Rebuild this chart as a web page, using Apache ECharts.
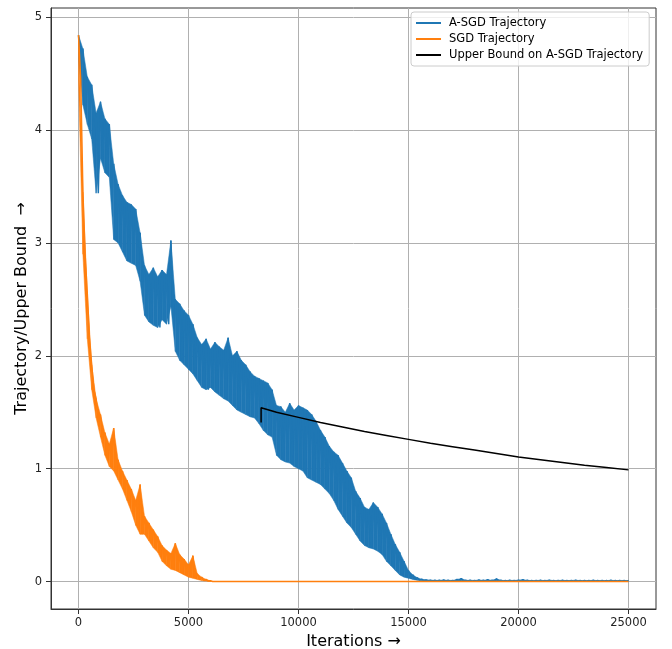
<!DOCTYPE html>
<html>
<head>
<meta charset="utf-8">
<script src="https://cdn.jsdelivr.net/npm/echarts@6/dist/echarts.min.js"></script>
<style>
  html, body { margin: 0; padding: 0; background: #fff; }
  #chart { width: 672px; height: 649px; }
</style>
</head>
<body>
<div id="chart"></div>
<script>
// iterations between two samples (top of the noise at i*step, bottom at i*step + step/2)
const step = 200;
const lastIter = 25000;

// A-SGD trajectory, upper and lower edge of the noisy band
const asgdHigh = [
  4.84, 4.72, 4.47, 4.40, 4.15, 4.25, 4.10, 4.05, 3.70, 3.52,
  3.42, 3.36, 3.34, 3.30, 3.09, 2.80, 2.72, 2.78, 2.70, 2.76,
  2.72, 3.02, 2.50, 2.46, 2.40, 2.36, 2.28, 2.16, 2.10, 2.15,
  2.06, 2.12, 2.08, 2.05, 2.16, 2.00, 2.04, 1.96, 1.92, 1.86,
  1.82, 1.80, 1.78, 1.76, 1.70, 1.56, 1.55, 1.50, 1.58, 1.52,
  1.56, 1.54, 1.52, 1.48, 1.42, 1.34, 1.28, 1.20, 1.15, 1.12,
  1.05, 0.98, 0.92, 0.80, 0.74, 0.66, 0.64, 0.70, 0.66, 0.60,
  0.52, 0.42, 0.33, 0.26, 0.18, 0.10, 0.06, 0.035, 0.022, 0.016,
  0.014, 0.012, 0.012, 0.015, 0.012, 0.011, 0.020, 0.028, 0.012, 0.013,
  0.011, 0.015, 0.012, 0.018, 0.012, 0.025, 0.012, 0.010, 0.012, 0.011,
  0.014, 0.018, 0.012, 0.010, 0.011, 0.012, 0.010, 0.014, 0.010, 0.011,
  0.012, 0.010, 0.011, 0.013, 0.010, 0.011, 0.010, 0.012, 0.010, 0.011,
  0.010, 0.012, 0.010, 0.011, 0.010, 0.010
];
const asgdLow = [
  4.62, 4.22, 4.05, 3.92, 3.44, 3.75, 3.62, 3.58, 3.03, 3.00,
  2.92, 2.84, 2.82, 2.80, 2.66, 2.36, 2.30, 2.27, 2.25, 2.32,
  2.28, 2.44, 2.04, 1.96, 1.92, 1.88, 1.84, 1.78, 1.72, 1.70,
  1.72, 1.68, 1.65, 1.62, 1.60, 1.56, 1.52, 1.50, 1.48, 1.46,
  1.45, 1.40, 1.34, 1.30, 1.28, 1.12, 1.08, 1.06, 1.05, 1.02,
  1.00, 0.98, 0.92, 0.90, 0.88, 0.86, 0.82, 0.78, 0.72, 0.64,
  0.58, 0.52, 0.48, 0.42, 0.36, 0.32, 0.30, 0.29, 0.27, 0.24,
  0.18, 0.14, 0.10, 0.06, 0.04, 0.03, 0.02, 0.012, 0.008, 0.006,
  0.005, 0.004, 0.004, 0.005, 0.004, 0.004, 0.005, 0.006, 0.004, 0.004,
  0.004, 0.004, 0.004, 0.005, 0.004, 0.005, 0.004, 0.004, 0.004, 0.004,
  0.004, 0.005, 0.004, 0.004, 0.004, 0.004, 0.004, 0.004, 0.004, 0.004,
  0.004, 0.004, 0.004, 0.004, 0.004, 0.004, 0.004, 0.004, 0.004, 0.004,
  0.004, 0.004, 0.004, 0.004, 0.004, 0.004
];

// SGD trajectory (noisy part up to 6000 iterations, flat afterwards)
const sgdHigh = [
  4.84, 3.45, 2.55, 1.92, 1.62, 1.48, 1.32, 1.22, 1.36, 1.08,
  0.98, 0.90, 0.82, 0.72, 0.86, 0.58, 0.52, 0.46, 0.40, 0.32,
  0.28, 0.25, 0.34, 0.24, 0.20, 0.15, 0.23, 0.07, 0.04, 0.02,
  0.008
];
const sgdLow = [
  4.45, 2.90, 2.15, 1.70, 1.45, 1.28, 1.12, 1.02, 0.98, 0.90,
  0.82, 0.72, 0.62, 0.50, 0.42, 0.42, 0.36, 0.30, 0.26, 0.18,
  0.14, 0.11, 0.10, 0.08, 0.06, 0.04, 0.03, 0.02, 0.01, 0.005,
  0.002
];
const sgdFlat = 0.001;

// upper bound on the A-SGD trajectory
const boundIters = [8300, 8300, 9000, 10000, 11000, 12000, 13000, 14000, 15000, 16000,
  17000, 18000, 19000, 20000, 21000, 22000, 23000, 24000, 25000];
const boundValues = [1.41, 1.54, 1.50, 1.455, 1.41, 1.37, 1.33, 1.295, 1.26, 1.225,
  1.195, 1.165, 1.135, 1.105, 1.08, 1.055, 1.03, 1.01, 0.99];

const xTicks = [0, 5000, 10000, 15000, 20000, 25000];
const yTicks = [0, 1, 2, 3, 4, 5];

// zigzag through the top and bottom of the noise
function zigzag(high, low) {
  const out = [];
  high.forEach((v, i) => {
    out.push([i * step, v]);
    if (i * step + step / 2 <= lastIter) out.push([i * step + step / 2, low[i]]);
  });
  return out;
}

// one quad per sample interval: [x0, low0, high0, x1, low1, high1]
function bandRows(high, low) {
  const out = [];
  for (let i = 0; i + 1 < high.length; i++) {
    out.push([i * step, low[i], high[i], (i + 1) * step, low[i + 1], high[i + 1]]);
  }
  return out;
}

const asgdData = zigzag(asgdHigh, asgdLow);
const sgdData = zigzag(sgdHigh, sgdLow);
sgdData.push([lastIter, sgdFlat]);
const boundData = boundIters.map((x, i) => [x, boundValues[i]]);

const font = 'DejaVu Sans';
const axisColor = '#333';
const gridColor = '#b0b0b0';
const blue = '#1f77b4';
const orange = '#ff7f0e';

function bandSeries(high, low, color, z) {
  return {
    type: 'custom',
    data: bandRows(high, low),
    encode: { x: [0, 3], y: [1, 2, 4, 5] },
    clip: true,
    silent: true,
    z: z,
    renderItem: (params, api) => {
      const p0 = api.coord([api.value(0), api.value(2)]);
      const p1 = api.coord([api.value(3), api.value(5)]);
      const p2 = api.coord([api.value(3), api.value(4)]);
      const p3 = api.coord([api.value(0), api.value(1)]);
      return {
        type: 'polygon',
        shape: { points: [p0, p1, p2, p3] },
        style: { fill: color, stroke: color, lineWidth: 0.5 }
      };
    }
  };
}

const chart = echarts.init(document.getElementById('chart'), null, { renderer: 'canvas' });
chart.setOption({
  animation: false,
  grid: {
    left: 51, right: 16, top: 8, bottom: 40,
    show: true, borderColor: axisColor, borderWidth: 1,
    outerBoundsMode: 'none'
  },
  legend: {
    left: 411, top: 12,
    orient: 'vertical',
    icon: 'rect',
    itemWidth: 25, itemHeight: 2,
    itemGap: 4,
    padding: [5, 6, 5, 5],
    backgroundColor: 'rgba(255,255,255,0.8)',
    borderColor: '#cccccc', borderWidth: 1, borderRadius: 3,
    textStyle: { fontFamily: font, fontSize: 11.5, color: '#000', lineHeight: 12, padding: [0, 0, 0, 3] },
    data: ['A-SGD Trajectory', 'SGD Trajectory', 'Upper Bound on A-SGD Trajectory']
  },
  xAxis: {
    type: 'value',
    min: -1250, max: 26250,
    name: 'Iterations →',
    nameLocation: 'middle',
    nameGap: 21,
    nameTextStyle: { fontFamily: font, fontSize: 16, color: '#000' },
    axisLine: { show: true, onZero: false, lineStyle: { color: axisColor, width: 1 } },
    axisTick: { show: true, inside: false, length: 5, customValues: xTicks, lineStyle: { color: axisColor } },
    axisLabel: { customValues: xTicks, margin: 8, fontFamily: font, fontSize: 11.5, color: '#222', formatter: v => String(v) },
    splitLine: { show: true, customValues: xTicks, lineStyle: { color: gridColor, width: 1 } }
  },
  yAxis: {
    type: 'value',
    min: -0.242, max: 5.08,
    name: 'Trajectory/Upper Bound  →',
    nameLocation: 'middle',
    nameGap: 21,
    nameMoveOverlap: false,
    nameTextStyle: { fontFamily: font, fontSize: 16, color: '#000' },
    axisLine: { show: true, onZero: false, lineStyle: { color: axisColor, width: 1 } },
    axisTick: { show: true, inside: false, length: 5, customValues: yTicks, lineStyle: { color: axisColor } },
    axisLabel: { customValues: yTicks, margin: 9, fontFamily: font, fontSize: 11.5, color: '#222', formatter: v => String(v) },
    splitLine: { show: true, customValues: yTicks, lineStyle: { color: gridColor, width: 1 } }
  },
  series: [
    bandSeries(asgdHigh, asgdLow, blue, 2),
    {
      name: 'A-SGD Trajectory',
      type: 'line',
      data: asgdData,
      symbol: 'none',
      itemStyle: { color: blue },
      lineStyle: { color: blue, width: 1.5 },
      z: 2
    },
    bandSeries(sgdHigh, sgdLow, orange, 3),
    {
      name: 'SGD Trajectory',
      type: 'line',
      data: sgdData,
      symbol: 'none',
      itemStyle: { color: orange },
      lineStyle: { color: orange, width: 1.5 },
      z: 3
    },
    {
      name: 'Upper Bound on A-SGD Trajectory',
      type: 'line',
      data: boundData,
      symbol: 'none',
      itemStyle: { color: '#000' },
      lineStyle: { color: '#000', width: 1.5 },
      z: 4
    }
  ]
});
</script>
</body>
</html>
